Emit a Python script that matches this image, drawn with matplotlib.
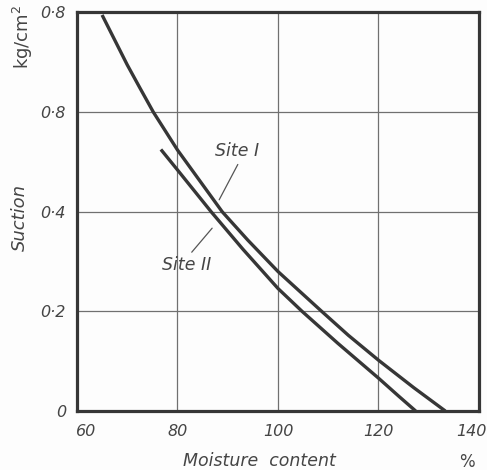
import matplotlib
matplotlib.use("Agg")
import matplotlib.pyplot as plt
from matplotlib.transforms import ScaledTranslation

# values
site1_moisture = [65.0, 67.5, 70.0, 72.5, 75.2, 80.0, 88.9, 94.0, 100.0, 108.7, 114.0, 120.0, 127.0, 133.3]
site1_suction = [0.795, 0.745, 0.695, 0.649, 0.600, 0.524, 0.400, 0.343, 0.280, 0.200, 0.152, 0.102, 0.047, 0.0]

site2_moisture = [76.7, 80.0, 86.7, 93.0, 100.0, 104.8, 111.9, 120.0, 124.0, 127.4]
site2_suction = [0.525, 0.484, 0.400, 0.325, 0.246, 0.200, 0.136, 0.066, 0.030, 0.0]

x_ticks = [60, 80, 100, 120, 140]
y_ticks = [0, 0.2, 0.4, 0.6, 0.8]
y_tick_labels = ["0", "0·2", "0·4", "0·8", "0·8"]

ink = "#363636"
text_col = "#454545"

plt.rcParams["font.family"] = ["DejaVu Sans"]

fig = plt.figure(figsize=(4.87, 4.70), dpi=100)
fig.patch.set_facecolor("#fdfdfd")
ax = fig.add_axes([0.158, 0.1255, 0.8256, 0.848])
ax.set_facecolor("#fdfdfd")

ax.plot(site1_moisture, site1_suction, color=ink, lw=2.4, solid_capstyle="butt", solid_joinstyle="round")
ax.plot(site2_moisture, site2_suction, color=ink, lw=2.4, solid_capstyle="butt", solid_joinstyle="round")

ax.set_xlim(60, 140)
ax.set_ylim(0, 0.8)
ax.set_xticks(x_ticks)
ax.set_xticklabels([str(v) for v in x_ticks], fontstyle="italic", fontsize=11.5, color=text_col)
ax.set_yticks(y_ticks)
ax.set_yticklabels(y_tick_labels, fontstyle="italic", fontsize=11.5, color=text_col)
ax.tick_params(axis="x", length=0, pad=9)
ax.tick_params(axis="y", length=0, pad=8)
ax.grid(True, color="#707070", lw=0.9)
ax.set_axisbelow(True)

# edge labels sit a little inside the frame in the original
xl = ax.get_xticklabels()
xl[0].set_transform(xl[0].get_transform() + ScaledTranslation(9 / 100, 0, fig.dpi_scale_trans))
xl[-1].set_transform(xl[-1].get_transform() + ScaledTranslation(-8 / 100, 0, fig.dpi_scale_trans))

for s in ax.spines.values():
    s.set_color(ink)
    s.set_linewidth(2.3)

# curve labels with leader lines
ax.annotate("Site I", xy=(88.3, 0.424), xytext=(91.9, 0.521),
            ha="center", va="center", fontstyle="italic", fontsize=12.5, color=text_col,
            arrowprops=dict(arrowstyle="-", color="#555555", lw=0.9,
                            shrinkA=1, shrinkB=0, relpos=(0.56, 0.0)))
ax.annotate("Site II", xy=(86.9, 0.367), xytext=(81.8, 0.293),
            ha="center", va="center", fontstyle="italic", fontsize=12.5, color=text_col,
            arrowprops=dict(arrowstyle="-", color="#555555", lw=0.9,
                            shrinkA=1, shrinkB=0, relpos=(0.54, 1.0)))

ax.text(0.455, -0.125, "Moisture  content", transform=ax.transAxes, ha="center", va="center",
        fontstyle="italic", fontsize=12.5, color=text_col)
ax.text(0.970, -0.128, "%", transform=ax.transAxes, ha="center", va="center",
        fontsize=12, color=text_col)
fig.text(0.041, 0.538, "Suction", rotation=90, ha="center", va="center",
         fontstyle="italic", fontsize=13, color=text_col)
fig.text(0.047, 0.922, "kg/cm$^2$", rotation=90, ha="center", va="center",
         fontsize=13, color=text_col)

fig.savefig("out.png", dpi=100, facecolor=fig.get_facecolor())
